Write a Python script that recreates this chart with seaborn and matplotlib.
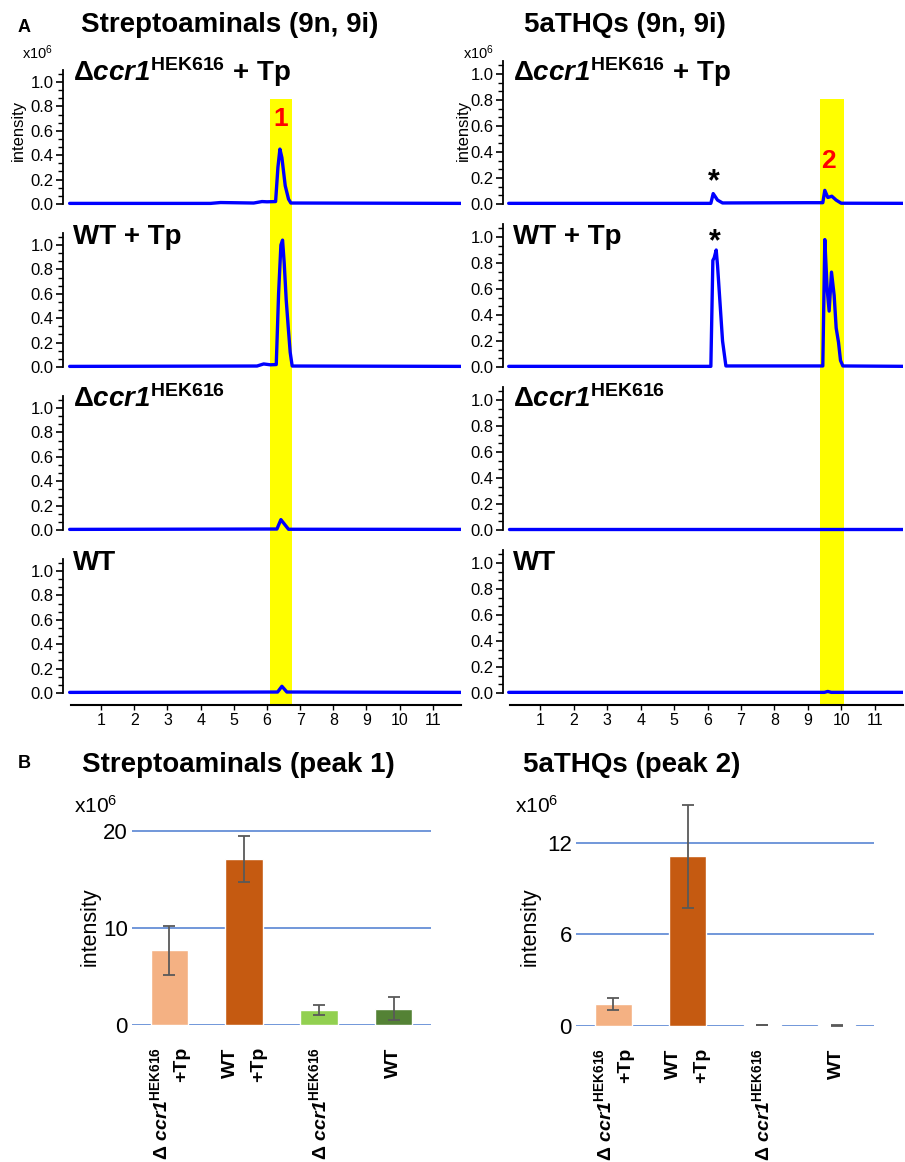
import matplotlib
matplotlib.use("Agg")
import matplotlib.pyplot as plt
from matplotlib.ticker import FixedLocator
import seaborn as sns
import pandas as pd

# ---- chromatogram traces: retention time (min) / intensity (x10^6) ----
strep_dtp_t = [0.05, 4.3, 4.6, 5.6, 5.85, 6.0, 6.26, 6.33, 6.39, 6.45, 6.55, 6.65, 6.72, 11.95]
strep_dtp_y = [0.005, 0.005, 0.012, 0.008, 0.02, 0.018, 0.02, 0.30, 0.45, 0.38, 0.15, 0.04, 0.008, 0.005]
strep_wtp_t = [0.05, 5.7, 5.9, 6.1, 6.28, 6.35, 6.42, 6.47, 6.52, 6.58, 6.64, 6.70, 6.76, 11.95]
strep_wtp_y = [0.005, 0.008, 0.025, 0.018, 0.02, 0.60, 1.00, 1.04, 0.85, 0.55, 0.33, 0.12, 0.008, 0.005]
strep_d_t = [0.05, 6.3, 6.42, 6.55, 6.65, 11.95]
strep_d_y = [0.005, 0.008, 0.085, 0.04, 0.006, 0.005]
strep_wt_t = [0.05, 6.32, 6.45, 6.6, 11.95]
strep_wt_y = [0.005, 0.008, 0.055, 0.008, 0.005]

thq_dtp_t = [0.05, 6.1, 6.17, 6.3, 6.45, 9.0, 9.45, 9.51, 9.6, 9.72, 9.85, 10.0, 11.95]
thq_dtp_y = [0.005, 0.005, 0.08, 0.03, 0.008, 0.01, 0.01, 0.105, 0.05, 0.06, 0.03, 0.006, 0.005]
thq_wtp_t = [0.05, 6.1, 6.16, 6.2, 6.26, 6.3, 6.45, 6.55, 9.45, 9.51, 9.58, 9.64, 9.71, 9.79, 9.85, 9.92, 9.98, 10.05, 11.95]
thq_wtp_y = [0.005, 0.005, 0.82, 0.84, 0.90, 0.78, 0.20, 0.008, 0.008, 0.98, 0.60, 0.43, 0.73, 0.55, 0.30, 0.19, 0.05, 0.008, 0.005]
thq_d_t = [0.05, 11.95]
thq_d_y = [0.005, 0.005]
thq_wt_t = [0.05, 9.5, 9.6, 9.7, 11.95]
thq_wt_y = [0.005, 0.005, 0.012, 0.005, 0.005]

row_labels = [r"Δ$\mathtt{ccr1}^{\mathsf{HEK616}}$ + Tp", "WT + Tp",
              r"Δ$\mathtt{ccr1}^{\mathsf{HEK616}}$", "WT"]
x_ticks = [1, 2, 3, 4, 5, 6, 7, 8, 9, 10, 11]

# ---- peak areas (x10^6) ----
bar_keys = ["dccr1_tp", "wt_tp", "dccr1", "wt"]
bar_labels = [r"Δ $\mathtt{ccr1}^{\mathsf{HEK616}}$" + "\n+Tp", "WT\n+Tp",
              r"Δ $\mathtt{ccr1}^{\mathsf{HEK616}}$", "WT"]
strep_mean = [7.7, 17.1, 1.55, 1.7]
strep_err = [2.5, 2.35, 0.5, 1.2]
thq_mean = [1.44, 11.1, 0.06, 0.05]
thq_err = [0.42, 3.38, 0.02, 0.02]
bar_colors = ["#F4B183", "#C55A11", "#92D050", "#548235"]

sns.set_style("white")
plt.rcParams["font.family"] = ["Liberation Sans", "DejaVu Sans"]
plt.rcParams["mathtext.fontset"] = "custom"
plt.rcParams["mathtext.rm"] = "Liberation Sans"
plt.rcParams["mathtext.it"] = "Liberation Sans:italic"
plt.rcParams["mathtext.tt"] = "Liberation Sans:bold:italic"  # gene name, bold italic
plt.rcParams["mathtext.sf"] = "Liberation Sans:bold"
plt.rcParams["mathtext.bf"] = "Liberation Sans:bold"
for k in ["text.color", "axes.labelcolor", "xtick.color", "ytick.color", "axes.edgecolor"]:
    plt.rcParams[k] = "black"

W, H = 905, 1162
fig = plt.figure(figsize=(W / 100, H / 100), dpi=100)


def box(left, top, right, bottom):
    return [left / W, 1 - bottom / H, (right - left) / W, (bottom - top) / H]


# ---- panel A: chromatograms ----
panels = [
    dict(left=63, right=461, scale=122, xmin=-0.15, band=(6.1, 6.75),
         traces=[(strep_dtp_t, strep_dtp_y), (strep_wtp_t, strep_wtp_y),
                 (strep_d_t, strep_d_y), (strep_wt_t, strep_wt_y)]),
    dict(left=503, right=903, scale=130, xmin=-0.12, band=(9.38, 10.08),
         traces=[(thq_dtp_t, thq_dtp_y), (thq_wtp_t, thq_wtp_y),
                 (thq_d_t, thq_d_y), (thq_wt_t, thq_wt_y)]),
]
row_h = 163
first_top = 53
band_top_px = 99
chrom_axes = []
for p in panels:
    col_axes = []
    for i, (t, y) in enumerate(p["traces"]):
        top = first_top + i * row_h
        ax = fig.add_axes(box(p["left"], top, p["right"], top + row_h))
        ylo = -12 / p["scale"]
        yhi = (row_h - 12) / p["scale"]
        ax.set_ylim(ylo, yhi)
        ax.set_xlim(p["xmin"], 11.85)
        if i == 0:
            frac = (top + row_h - band_top_px) / row_h
            ax.axvspan(*p["band"], ymax=frac, color="#FFFF00", lw=0, zorder=0)
        else:
            ax.axvspan(*p["band"], color="#FFFF00", lw=0, zorder=0)
        sns.lineplot(x=t, y=y, ax=ax, color="#0000FF", lw=2.4, zorder=3)
        for s in ["top", "right"]:
            ax.spines[s].set_visible(False)
        ax.spines["left"].set_bounds(0, 1.1)
        ax.spines["left"].set_linewidth(1.3)
        ax.yaxis.set_major_locator(FixedLocator([0, 0.2, 0.4, 0.6, 0.8, 1.0]))
        ax.yaxis.set_minor_locator(FixedLocator([k * 0.2 / 3 for k in range(17)]))
        ax.set_yticklabels(["0.0", "0.2", "0.4", "0.6", "0.8", "1.0"])
        ax.tick_params(axis="y", which="major", left=True, length=5, width=1.2,
                       labelsize=12, pad=2)
        ax.tick_params(axis="y", which="minor", left=True, length=3.5, width=1.0)
        ax.set_ylabel("")
        if i == 3:
            ax.spines["bottom"].set_bounds(0.08, 11.85)
            ax.spines["bottom"].set_linewidth(1.5)
            ax.set_xticks(x_ticks)
            ax.tick_params(axis="x", bottom=True, length=3.5, width=1.0,
                           labelsize=11.5, pad=2)
        else:
            ax.spines["bottom"].set_visible(False)
            ax.set_xticks([])
        ax.text(0.025, 0.83, row_labels[i], transform=ax.transAxes, fontsize=20,
                fontweight="bold", ha="left", va="baseline")
        ax.patch.set_alpha(0)
        col_axes.append(ax)
    chrom_axes.append(col_axes)

# peak markers
chrom_axes[0][0].text(6.4, 0.70, "1", color="#FF0000", fontsize=19,
                      fontweight="bold", ha="center", va="center")
chrom_axes[1][0].text(9.62, 0.33, "2", color="#FF0000", fontsize=19,
                      fontweight="bold", ha="center", va="center")
chrom_axes[1][0].text(6.2, 0.17, "*", fontsize=22, fontweight="bold",
                      ha="center", va="center")
chrom_axes[1][1].text(6.22, 0.96, "*", fontsize=22, fontweight="bold",
                      ha="center", va="center")

fig.text(18 / W, 1 - 28 / H, "A", fontsize=13, fontweight="bold", ha="left", va="center")
fig.text(230 / W, 1 - 25 / H, "Streptoaminals (9n, 9i)", fontsize=20,
         fontweight="bold", ha="center", va="center")
fig.text(625 / W, 1 - 25 / H, "5aTHQs (9n, 9i)", fontsize=20,
         fontweight="bold", ha="center", va="center")
for xp in [37, 478]:
    fig.text(xp / W, 1 - 53 / H, r"x10$^{6}$", fontsize=10.5, ha="center", va="center")
for xp in [18, 463]:
    fig.text(xp / W, 1 - 130 / H, "intensity", fontsize=12, rotation=90,
             ha="center", va="center")

# ---- panel B: peak areas ----
fig.text(18 / W, 1 - 763 / H, "B", fontsize=13, fontweight="bold", ha="left", va="center")
bar_panels = [
    dict(left=132, right=431, bottom=1025, ymax=22, pxu=9.7, yt=[0, 10, 20],
         mean=strep_mean, err=strep_err, title="Streptoaminals (peak 1)",
         title_x=238, x10_x=96, ylab_x=90),
    dict(left=576, right=874, bottom=1026, ymax=15, pxu=15.28, yt=[0, 6, 12],
         mean=thq_mean, err=thq_err, title="5aTHQs (peak 2)",
         title_x=632, x10_x=537, ylab_x=530),
]
for bp in bar_panels:
    top = bp["bottom"] - bp["ymax"] * bp["pxu"]
    ax = fig.add_axes(box(bp["left"], top, bp["right"], bp["bottom"]))
    df = pd.DataFrame({"group": bar_keys, "value": bp["mean"]})
    sns.barplot(data=df, x="group", y="value", hue="group", palette=bar_colors,
                legend=False, width=0.5, saturation=1, ax=ax, zorder=2)
    ax.errorbar(range(len(bar_keys)), bp["mean"], yerr=bp["err"], fmt="none",
                ecolor="#595959", elinewidth=1.3, capsize=4, capthick=1.3, zorder=3)
    ax.set_xlim(-0.5, 3.5)
    ax.set_ylim(0, bp["ymax"])
    ax.set_yticks(bp["yt"])
    ax.yaxis.grid(True, color="#4A7BD0", lw=1.1)
    ax.set_axisbelow(True)
    sns.despine(ax=ax, left=True, bottom=True)
    ax.set_xlabel("")
    ax.set_ylabel("")
    ax.set_xticks(range(len(bar_keys)))
    ax.set_xticklabels(bar_labels, rotation=90, fontsize=14, fontweight="bold",
                       multialignment="right", linespacing=1.15)
    ax.get_xticklabels()[1].set_linespacing(1.85)
    ax.tick_params(axis="x", length=0, pad=16)
    ax.tick_params(axis="y", length=0, labelsize=16, pad=3)
    ax.patch.set_alpha(0)
    fig.text(bp["title_x"] / W, 1 - 765 / H, bp["title"], fontsize=20,
             fontweight="bold", ha="center", va="center")
    fig.text(bp["x10_x"] / W, 1 - 806 / H, r"x10$^{6}$", fontsize=15,
             ha="center", va="center")
    fig.text(bp["ylab_x"] / W, 1 - 927 / H, "intensity", fontsize=15.5,
             rotation=90, ha="center", va="center")

plt.savefig("out.png", dpi=100)
